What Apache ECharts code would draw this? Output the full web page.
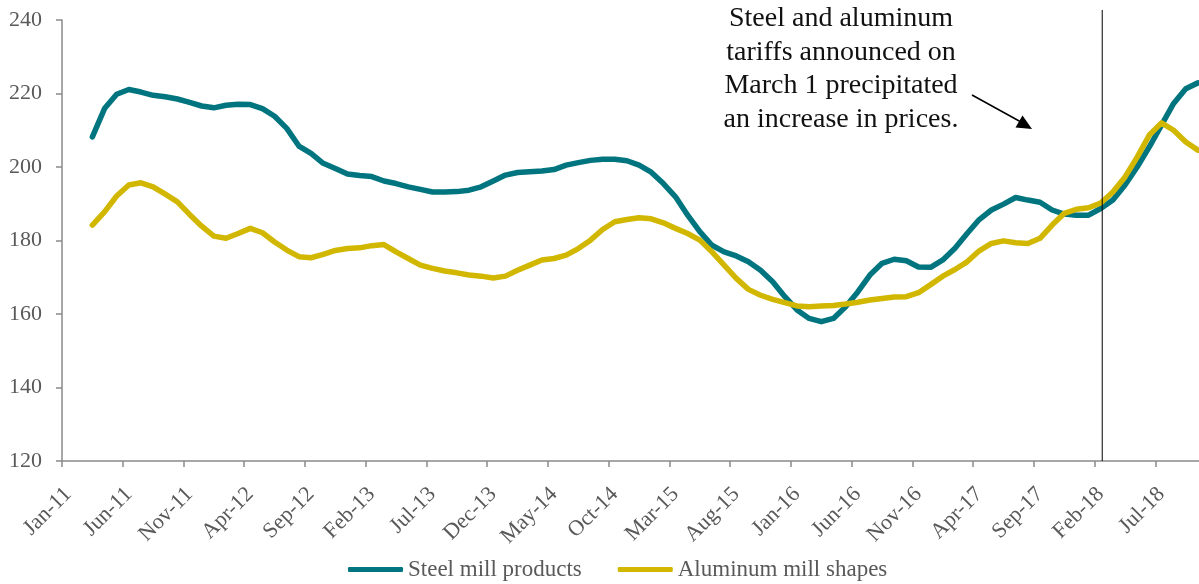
<!DOCTYPE html>
<html>
<head>
<meta charset="utf-8">
<title>Steel and aluminum mill prices</title>
<script src="https://cdn.jsdelivr.net/npm/echarts@6/dist/echarts.min.js"></script>
<style>
  html, body { margin: 0; padding: 0; background: #fff; }
  #chart { width: 1199px; height: 584px; }
</style>
</head>
<body>
<div id="chart"></div>
<script>
// Monthly categories, Jan-11 through Oct-18
const categories = [
  'Jan-11','Feb-11','Mar-11','Apr-11','May-11','Jun-11','Jul-11','Aug-11','Sep-11','Oct-11','Nov-11','Dec-11',
  'Jan-12','Feb-12','Mar-12','Apr-12','May-12','Jun-12','Jul-12','Aug-12','Sep-12','Oct-12','Nov-12','Dec-12',
  'Jan-13','Feb-13','Mar-13','Apr-13','May-13','Jun-13','Jul-13','Aug-13','Sep-13','Oct-13','Nov-13','Dec-13',
  'Jan-14','Feb-14','Mar-14','Apr-14','May-14','Jun-14','Jul-14','Aug-14','Sep-14','Oct-14','Nov-14','Dec-14',
  'Jan-15','Feb-15','Mar-15','Apr-15','May-15','Jun-15','Jul-15','Aug-15','Sep-15','Oct-15','Nov-15','Dec-15',
  'Jan-16','Feb-16','Mar-16','Apr-16','May-16','Jun-16','Jul-16','Aug-16','Sep-16','Oct-16','Nov-16','Dec-16',
  'Jan-17','Feb-17','Mar-17','Apr-17','May-17','Jun-17','Jul-17','Aug-17','Sep-17','Oct-17','Nov-17','Dec-17',
  'Jan-18','Feb-18','Mar-18','Apr-18','May-18','Jun-18','Jul-18','Aug-18','Sep-18','Oct-18'
];

// Price index, steel mill products (first two months have no value)
const steelMill = [
  null, null, 208.2, 215.9, 219.8, 221.1, 220.4, 219.5, 219.1, 218.5, 217.6, 216.6,
  216.1, 216.8, 217.1, 217.0, 215.9, 213.8, 210.5, 205.7, 203.7, 201.0, 199.6, 198.1,
  197.7, 197.4, 196.2, 195.5, 194.6, 193.9, 193.2, 193.2, 193.3, 193.7, 194.6, 196.2,
  197.8, 198.5, 198.7, 198.9, 199.3, 200.5, 201.2, 201.8, 202.1, 202.1, 201.7, 200.5,
  198.6, 195.5, 191.9, 186.9, 182.4, 178.7, 176.9, 175.8, 174.2, 171.9, 168.8, 164.7,
  161.1, 158.8, 157.9, 158.8, 162.0, 166.0, 170.6, 173.8, 174.9, 174.5, 172.8, 172.7,
  174.7, 177.9, 181.9, 185.7, 188.3, 189.9, 191.7, 191.0, 190.4, 188.3, 187.2, 186.9,
  186.9, 188.7, 191.0, 195.1, 200.0, 205.5, 211.4, 217.3, 221.3, 222.9
];

// Price index, aluminum mill shapes
const aluminumMill = [
  null, null, 184.2, 187.8, 192.1, 195.1, 195.7, 194.6, 192.6, 190.5, 187.1, 183.9,
  181.2, 180.6, 181.9, 183.3, 182.1, 179.6, 177.4, 175.6, 175.3, 176.2, 177.3, 177.8,
  178.0, 178.6, 178.9, 176.9, 175.1, 173.3, 172.4, 171.7, 171.2, 170.6, 170.3, 169.8,
  170.3, 171.9, 173.3, 174.7, 175.1, 176.0, 177.8, 180.1, 183.0, 185.1, 185.7, 186.2,
  185.9, 184.8, 183.3, 181.9, 180.1, 176.9, 173.3, 169.7, 166.7, 165.1, 164.0, 163.1,
  162.2, 162.0, 162.2, 162.3, 162.7, 163.2, 163.8, 164.2, 164.6, 164.7, 165.8, 168.0,
  170.3, 172.1, 174.2, 177.2, 179.2, 179.9, 179.4, 179.2, 180.6, 184.2, 187.4, 188.5,
  188.9, 190.2, 193.2, 197.3, 202.7, 208.7, 212.0, 210.0, 206.8, 204.6
];

const seriesNames = ['Steel mill products', 'Aluminum mill shapes'];
const tariffMonth = 'Feb-18';
const noteLines = [
  'Steel and aluminum',
  'tariffs announced on',
  'March 1 precipitated',
  'an increase in prices.'
];

const FONT = '"Liberation Serif", "Times New Roman", serif';
const AXIS_GREY = '#8a8a8a';
const LABEL_GREY = '#595959';
const TEAL = '#00757f';
const GOLD = '#d2b700';
const Y_MIN = 120;

const chart = echarts.init(document.getElementById('chart'), null, { renderer: 'canvas' });

const noteAndArrow = [
  {
    type: 'text',
    x: 841,
    y: 2,
    style: {
      text: noteLines.join('\n'),
      textAlign: 'center',
      textVerticalAlign: 'top',
      fontFamily: FONT,
      fontSize: 28,
      lineHeight: 33.5,
      fill: '#111111'
    }
  },
  {
    type: 'line',
    shape: { x1: 972, y1: 95, x2: 1021, y2: 122 },
    style: { stroke: '#000000', lineWidth: 1.5 }
  },
  {
    type: 'polygon',
    shape: { points: [[1032, 129], [1015.5, 127.5], [1022.5, 115.5]] },
    style: { fill: '#000000' }
  }
];

chart.setOption({
  animation: false,
  backgroundColor: '#ffffff',
  // the last month runs slightly past the right edge of the canvas
  grid: {
    left: 62, width: 1142, top: 20, height: 441,
    containLabel: false,
    outerBoundsMode: 'none'
  },
  legend: {
    bottom: -2,
    left: 343,
    itemWidth: 55,
    itemHeight: 5,
    itemGap: 36,
    icon: 'roundRect',
    textStyle: { fontFamily: FONT, fontSize: 23, color: LABEL_GREY },
    data: seriesNames
  },
  xAxis: {
    type: 'category',
    data: categories,
    boundaryGap: true,
    axisLine: { show: true, lineStyle: { color: AXIS_GREY, width: 1.5 } },
    axisTick: { show: true, interval: 4, length: 6, inside: false, lineStyle: { color: AXIS_GREY, width: 1.5 } },
    axisLabel: {
      interval: 4,
      rotate: 45,
      margin: 30,
      fontFamily: FONT,
      fontSize: 22,
      color: LABEL_GREY
    },
    splitLine: { show: false }
  },
  yAxis: {
    type: 'value',
    min: Y_MIN,
    max: 240,
    interval: 20,
    axisLine: { show: true, lineStyle: { color: AXIS_GREY, width: 1.5 } },
    axisTick: { show: true, length: 6, inside: false, lineStyle: { color: AXIS_GREY, width: 1.5 } },
    axisLabel: { margin: 20, fontFamily: FONT, fontSize: 22, color: LABEL_GREY },
    splitLine: { show: false }
  },
  series: [
    {
      name: seriesNames[0],
      type: 'line',
      data: steelMill,
      showSymbol: false,
      symbol: 'none',
      connectNulls: false,
      itemStyle: { color: TEAL },
      lineStyle: { color: TEAL, width: 5.5, cap: 'round', join: 'round' },
      emphasis: { disabled: true },
      z: 3
    },
    {
      name: seriesNames[1],
      type: 'line',
      data: aluminumMill,
      showSymbol: false,
      symbol: 'none',
      connectNulls: false,
      itemStyle: { color: GOLD },
      lineStyle: { color: GOLD, width: 5.5, cap: 'round', join: 'round' },
      emphasis: { disabled: true },
      z: 4
    }
  ],
  graphic: noteAndArrow
});

// Vertical rule at the tariff month, placed through the chart's own axes;
// it rises above the plot area up to the top of the note.
const ruleX = chart.convertToPixel({ xAxisIndex: 0 }, tariffMonth);
const ruleBottom = chart.convertToPixel({ yAxisIndex: 0 }, Y_MIN);
chart.setOption({
  graphic: noteAndArrow.concat([{
    type: 'line',
    z: 10,
    shape: { x1: ruleX + 1.5, y1: 10, x2: ruleX + 1.5, y2: ruleBottom },
    style: { stroke: '#000000', lineWidth: 1 }
  }])
});
</script>
</body>
</html>
